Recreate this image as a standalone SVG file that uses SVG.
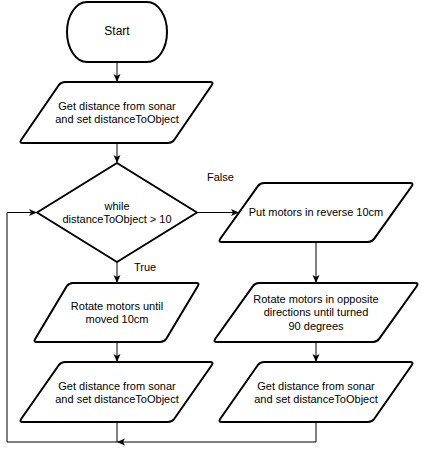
<svg xmlns="http://www.w3.org/2000/svg" width="422" height="451" viewBox="0 0 422 451">
<style>
.s{fill:#fff;stroke:#000;stroke-width:2;stroke-linejoin:round}
.c{fill:none;stroke:#000;stroke-width:1}
text{font-family:"Liberation Sans",Arial,sans-serif;font-size:11px;fill:#000;text-anchor:middle}
.l{text-anchor:start}
</style>
<defs>
<marker id="arr" viewBox="0 0 8 8" refX="8" refY="4" markerWidth="8" markerHeight="8" orient="auto" markerUnits="userSpaceOnUse">
<path d="M0,0.5 L8,4 L0,7.5 L2,4 Z" fill="#000"/>
</marker>
</defs>
<rect width="422" height="451" fill="#fff"/>
<g id="connectors">
<line class="c" x1="117" y1="62" x2="117" y2="82" marker-end="url(#arr)"/>
<line class="c" x1="117" y1="143" x2="117" y2="163" marker-end="url(#arr)"/>
<line class="c" x1="117" y1="262" x2="117" y2="283" marker-end="url(#arr)"/>
<line class="c" x1="117" y1="342" x2="117" y2="362" marker-end="url(#arr)"/>
<line class="c" x1="197" y1="212.5" x2="239" y2="212.5" marker-end="url(#arr)"/>
<line class="c" x1="316" y1="242" x2="316" y2="283" marker-end="url(#arr)"/>
<line class="c" x1="316" y1="342" x2="316" y2="362" marker-end="url(#arr)"/>
<polyline class="c" points="117,422 117,442 7,442 7,212.5 37,212.5" marker-end="url(#arr)"/>
<polyline class="c" points="316,422 316,442 117,442" marker-end="url(#arr)"/>
<text class="l" x="207" y="181">False</text>
<text class="l" x="134" y="271">True</text>
</g>
<g id="start">
<rect class="s" x="67" y="2" width="100" height="60" rx="20" ry="30"/>
<text x="117" y="35" style="font-size:12px">Start</text>
</g>
<g id="get1">
<path class="s" d="M65,82 L210,82 Q214,82 211.7,85.3 L174.3,139.7 Q172,143 168,143 L23,143 Q19,143 21.3,139.7 L58.7,85.3 Q61,82 65,82 Z"/>
<text x="117" y="110">Get distance from sonar</text>
<text x="117" y="123">and set distanceToObject</text>
</g>
<g id="while">
<polygon class="s" points="117,163 197,212.5 117,262 37,212.5"/>
<text x="117" y="210">while</text>
<text x="117" y="223">distanceToObject &gt; 10</text>
</g>
<g id="rotate1">
<path class="s" d="M73,283 L196,283 Q200,283 197.7,286.3 L166.3,338.7 Q164,342 160,342 L37,342 Q33,342 35.3,338.7 L66.7,286.3 Q69,283 73,283 Z"/>
<text x="117" y="310">Rotate motors until</text>
<text x="117" y="323">moved 10cm</text>
</g>
<g id="get2">
<path class="s" d="M65,362 L210,362 Q214,362 211.7,365.3 L174.3,418.7 Q172,422 168,422 L23,422 Q19,422 21.3,418.7 L58.7,365.3 Q61,362 65,362 Z"/>
<text x="117" y="390">Get distance from sonar</text>
<text x="117" y="403">and set distanceToObject</text>
</g>
<g id="reverse">
<path class="s" d="M264,183 L410,183 Q414,183 411.7,186.3 L374.3,238.7 Q372,242 368,242 L222,242 Q218,242 220.3,238.7 L257.7,186.3 Q260,183 264,183 Z"/>
<text x="316" y="216">Put motors in reverse 10cm</text>
</g>
<g id="rotate2">
<path class="s" d="M259,283 L415,283 Q419,283 416.7,286.3 L379.3,338.7 Q377,342 373,342 L217,342 Q213,342 215.3,338.7 L252.7,286.3 Q255,283 259,283 Z"/>
<text x="316" y="303">Rotate motors in opposite</text>
<text x="316" y="316">directions until turned</text>
<text x="316" y="330">90 degrees</text>
</g>
<g id="get3">
<path class="s" d="M264,362 L410,362 Q414,362 411.7,365.3 L374.3,418.7 Q372,422 368,422 L222,422 Q218,422 220.3,418.7 L257.7,365.3 Q260,362 264,362 Z"/>
<text x="316" y="390">Get distance from sonar</text>
<text x="316" y="403">and set distanceToObject</text>
</g>
</svg>
